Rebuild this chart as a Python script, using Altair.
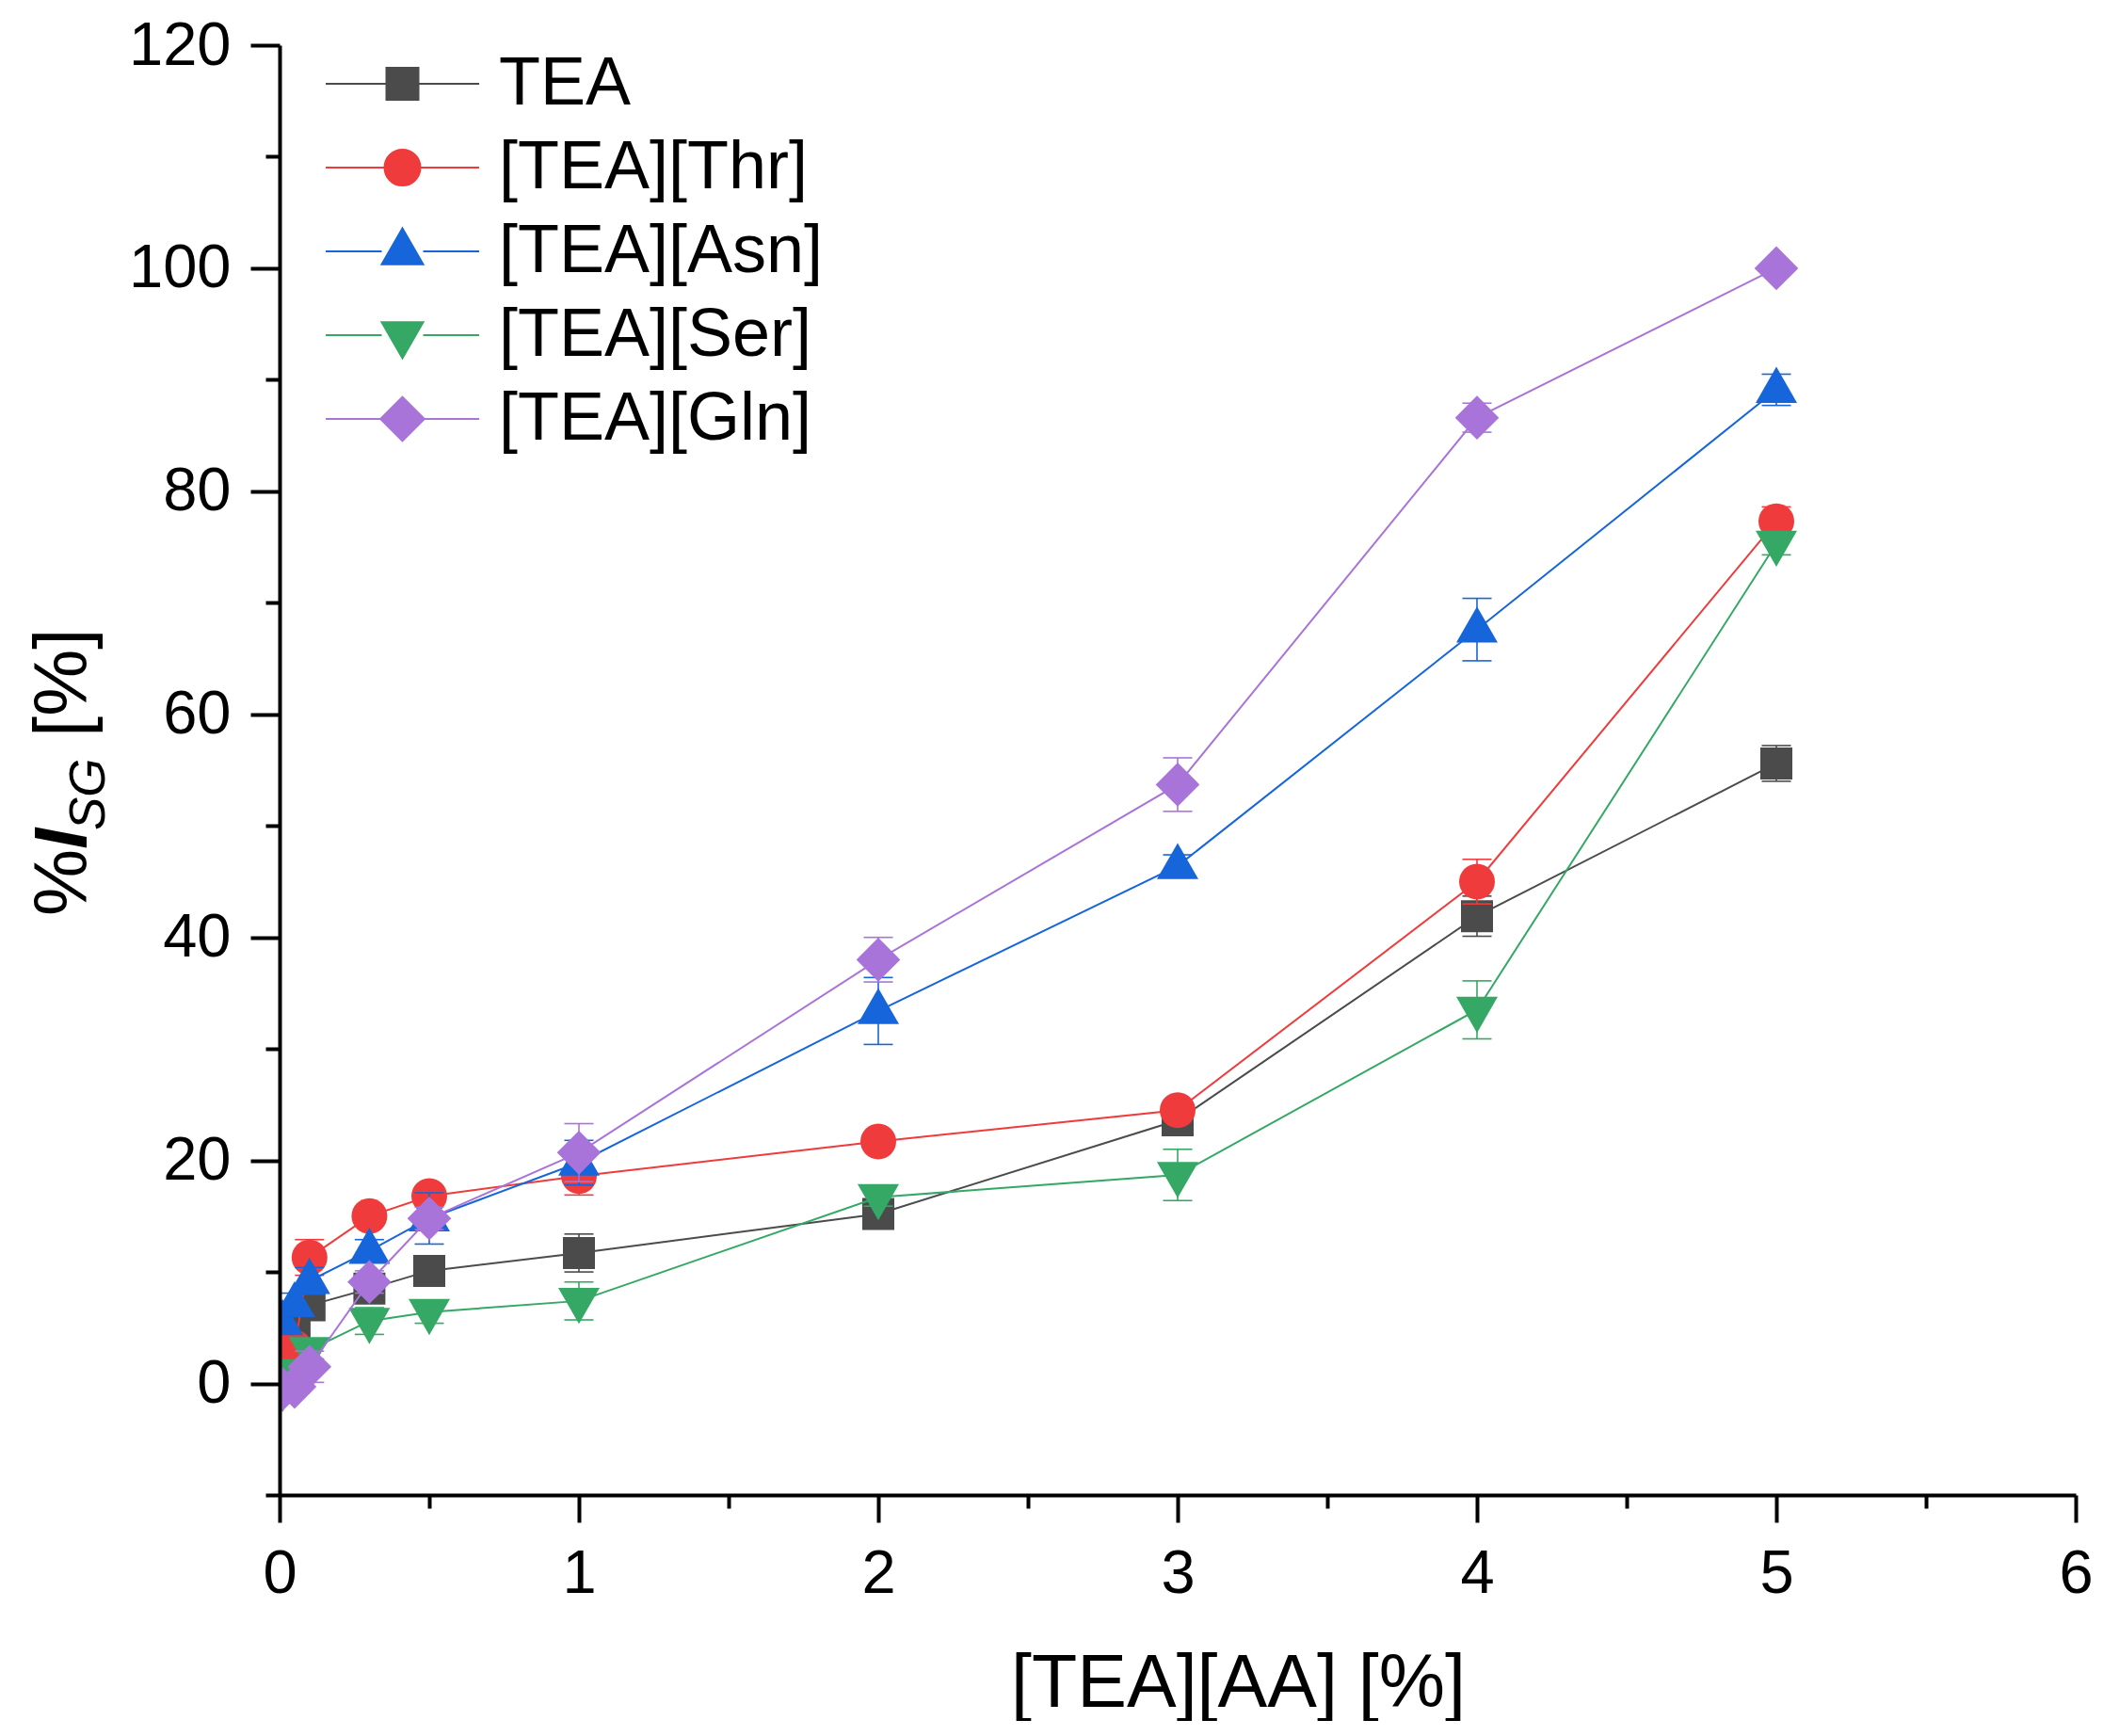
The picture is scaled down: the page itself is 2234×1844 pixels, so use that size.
import altair as alt
import pandas as pd

# ---------------- data ----------------
series = ["TEA", "[TEA][Thr]", "[TEA][Asn]", "[TEA][Ser]", "[TEA][Gln]"]
conc = [0.01, 0.05, 0.1, 0.3, 0.5, 1, 2, 3, 4, 5]

tea = [2.0, 5.5, 7.0, 8.5, 10.1, 11.7, 15.2, 23.6, 41.9, 55.6]
tea_err = [0.8, 1.0, 1.2, 1.0, 0.8, 1.7, 0.8, 0.8, 1.8, 1.6]
thr = [2.0, 3.2, 11.3, 15.0, 16.8, 18.6, 21.7, 24.5, 45.0, 77.3]
thr_err = [0.8, 0.8, 1.6, 0.8, 0.8, 1.7, 0.6, 0.8, 2.0, 1.3]
asn = [5.5, 7.1, 9.2, 11.9, 14.8, 19.8, 33.4, 46.4, 67.6, 89.1]
asn_err = [1.0, 1.0, 1.2, 1.0, 2.3, 2.0, 3.0, 1.0, 2.8, 1.4]
ser = [-0.5, 1.0, 3.0, 5.6, 6.4, 7.4, 16.7, 18.7, 33.5, 75.3]
ser_err = [0.6, 0.8, 0.8, 1.2, 1.0, 1.7, 0.8, 2.3, 2.6, 1.0]
gln = [-0.5, -0.3, 1.5, 9.1, 14.8, 20.7, 38.0, 53.7, 86.6, 100.0]
gln_err = [0.6, 0.6, 1.4, 1.0, 1.0, 2.6, 2.0, 2.4, 1.3, 0.5]

x_ticks = [0, 0.5, 1, 1.5, 2, 2.5, 3, 3.5, 4, 4.5, 5, 5.5, 6]
y_ticks = [-10, 0, 10, 20, 30, 40, 50, 60, 70, 80, 90, 100, 110, 120]

x_title = "[TEA][AA] [%]"
ytitle_parts = ["%", "I", "SG", "[%]"]

# ---------------- styles ----------------
FONT = "Liberation Sans, Arial, Helvetica, sans-serif"
colors = ["#4b4b4b", "#ef3b3b", "#1765da", "#34a864", "#a974da"]

# marker paths (unit = 81.5 px, used with size 26569)
marker_paths = [
    "M-0.2086,-0.2086H0.2086V0.2086H-0.2086Z",
    "M0.2331,0A0.2331,0.2331 0 1,1 -0.2331,0A0.2331,0.2331 0 1,1 0.2331,0Z",
    "M0,-0.30L0.27,0.17L-0.27,0.17Z",
    "M0,0.30L0.27,-0.17L-0.27,-0.17Z",
    "M0,-0.286L0.286,0L0,0.286L-0.286,0Z",
]
legend_paths = [
    "M-1,0H-0.2086M0.2086,0H1" + marker_paths[0],
    "M-1,0H-0.2331M0.2331,0H1" + marker_paths[1],
    "M-1,0H-0.27M0.27,0H1" + marker_paths[2],
    "M-1,0H-0.27M0.27,0H1" + marker_paths[3],
    "M-1,0H-0.286M0.286,0H1" + marker_paths[4],
]
SYM = 26569

rows = []
for s, ys, es in zip(series,
                     [tea, thr, asn, ser, gln],
                     [tea_err, thr_err, asn_err, ser_err, gln_err]):
    for xv, yv, ev in zip(conc, ys, es):
        rows.append({"series": s, "x": xv, "y": yv, "lo": yv - ev, "hi": yv + ev})
df = pd.DataFrame(rows)

xscale = alt.Scale(domain=[0, 6], nice=False, zero=False)
yscale = alt.Scale(domain=[-10, 120], nice=False, zero=False)

axis_style = dict(
    grid=False, domainColor="black", domainWidth=4, tickColor="black",
    tickWidth=4, labelFont=FONT, labelFontSize=65, labelColor="black",
    labelFlush=False, labelOverlap=False, zindex=1,
)

xaxis = alt.Axis(
    values=x_ticks, format=".1f",
    labelExpr="datum.value % 1 === 0 ? format(datum.value, 'd') : ''",
    tickSize={"condition": {"test": "datum.value % 1 === 0", "value": 29}, "value": 14},
    labelPadding=23,
    title=x_title, titleFont=FONT, titleFontSize=79, titleFontWeight="normal",
    titleColor="black", titleX=1018, titleY=224, titleAlign="center",
    titleBaseline="alphabetic",
    **axis_style,
)
yaxis = alt.Axis(
    values=y_ticks, format=".0f",
    labelExpr="datum.value % 20 === 0 ? format(datum.value, 'd') : ''",
    tickSize={"condition": {"test": "datum.value % 20 === 0", "value": 31}, "value": 15},
    labelPadding=21, title=None,
    **axis_style,
)

base = alt.Chart(df)

layers = []
for i, s in enumerate(series):
    sub = base.transform_filter(alt.datum.series == s)
    col = colors[i]
    if i == 0:
        enc_x = alt.X("x:Q", scale=xscale, axis=xaxis)
        enc_y = alt.Y("y:Q", scale=yscale, axis=yaxis)
    else:
        enc_x = alt.X("x:Q")
        enc_y = alt.Y("y:Q")
    layers.append(sub.mark_line(strokeWidth=2, clip=True, color=col).encode(
        x=enc_x, y=enc_y, order=alt.Order("x:Q")))
    layers.append(sub.mark_rule(strokeWidth=1.6, clip=True, color=col).encode(
        x="x:Q", y="lo:Q", y2="hi:Q"))
    layers.append(sub.transform_fold(["lo", "hi"], as_=["end", "v"]).mark_tick(
        orient="horizontal", size=31, thickness=1.6, opacity=1, clip=True, color=col
    ).encode(x="x:Q", y="v:Q"))
    layers.append(sub.mark_point(filled=True, opacity=1, size=SYM, clip=True,
                                 shape=marker_paths[i], color=col).encode(
        x="x:Q", y="y:Q"))

leg = alt.Legend(
    title=None, orient="none", legendX=48, legendY=5, direction="vertical",
    clipHeight=72, rowPadding=17, labelOffset=20, symbolSize=SYM,
    symbolStrokeWidth=2, symbolOpacity=1, labelFont=FONT, labelFontSize=72,
    labelColor="black", padding=0, labelLimit=0,
)
legend_layer = base.transform_filter("false").mark_point(filled=True, opacity=1, size=SYM).encode(
    x="x:Q", y="y:Q",
    fill=alt.Fill("series:N", scale=alt.Scale(domain=series, range=colors), legend=leg),
    stroke=alt.Stroke("series:N", scale=alt.Scale(domain=series, range=colors), legend=leg),
    shape=alt.Shape("series:N", scale=alt.Scale(domain=series, range=legend_paths), legend=leg),
)
layers.append(legend_layer)

# y-axis title built from pieces (italic I with subscript SG)
title_pos = [(-205, 925), (-205, 854), (-186, 834), (-205, 735)]
title_font = [(80, "normal", "normal"), (80, "italic", "bold"), (53, "italic", "normal"), (80, "normal", "normal")]
for txt, (px, py), (fs, st, wt) in zip(ytitle_parts, title_pos, title_font):
    layers.append(
        alt.Chart(pd.DataFrame({"t": [txt]})).mark_text(
            angle=270, align="left", baseline="alphabetic", font=FONT,
            fontSize=fs, fontStyle=st, fontWeight=wt, color="black",
        ).encode(x=alt.value(px), y=alt.value(py), text="t:N")
    )

chart = alt.layer(*layers).properties(
    width=1908, height=1540,
    padding={"left": 289, "top": 40, "right": 20, "bottom": 240},
    autosize=alt.AutoSizeParams(type="none"),
    background="white",
).configure_view(stroke=None)

chart.save("out.html", embed_options={"renderer": "svg", "actions": False})
